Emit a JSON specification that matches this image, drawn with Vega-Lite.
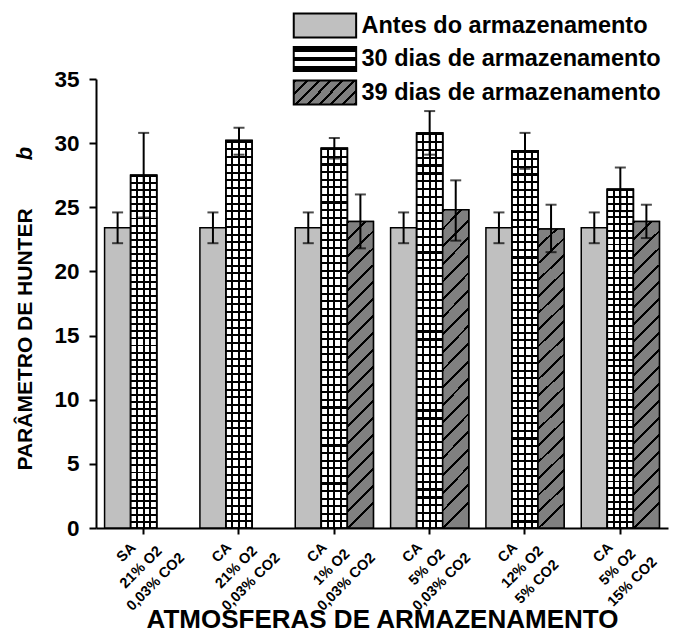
{
"$schema":"https://vega.github.io/schema/vega-lite/v6.json",
"width":572,"height":449,"autosize":"none",
"padding":{"left":96,"top":79,"right":6,"bottom":104},
"background":"#ffffff",
"title":{"text":"b","orient":"left","anchor":"end","fontStyle":"italic","fontWeight":"bold","fontSize":22,"offset":-23,"dx":-133,"color":"#000000"},
"data":{"values":[
{"atmosfera":"SA\n21% O2\n0,03% CO2","serie":"Antes do armazenamento","valor":23.4,"min":22.2,"max":24.6},
{"atmosfera":"SA\n21% O2\n0,03% CO2","serie":"30 dias de armazenamento","valor":27.5,"min":24.2,"max":30.8},
{"atmosfera":"CA\n21% O2\n0,03% CO2","serie":"Antes do armazenamento","valor":23.4,"min":22.2,"max":24.6},
{"atmosfera":"CA\n21% O2\n0,03% CO2","serie":"30 dias de armazenamento","valor":30.2,"min":29.1,"max":31.2},
{"atmosfera":"CA\n1% O2\n0,03% CO2","serie":"Antes do armazenamento","valor":23.4,"min":22.2,"max":24.6},
{"atmosfera":"CA\n1% O2\n0,03% CO2","serie":"30 dias de armazenamento","valor":29.6,"min":28.8,"max":30.4},
{"atmosfera":"CA\n1% O2\n0,03% CO2","serie":"39 dias de armazenamento","valor":23.9,"min":21.8,"max":26.0},
{"atmosfera":"CA\n5% O2\n0,03% CO2","serie":"Antes do armazenamento","valor":23.4,"min":22.2,"max":24.6},
{"atmosfera":"CA\n5% O2\n0,03% CO2","serie":"30 dias de armazenamento","valor":30.8,"min":29.1,"max":32.5},
{"atmosfera":"CA\n5% O2\n0,03% CO2","serie":"39 dias de armazenamento","valor":24.8,"min":22.4,"max":27.1},
{"atmosfera":"CA\n12% O2\n5% CO2","serie":"Antes do armazenamento","valor":23.4,"min":22.2,"max":24.6},
{"atmosfera":"CA\n12% O2\n5% CO2","serie":"30 dias de armazenamento","valor":29.4,"min":28.0,"max":30.8},
{"atmosfera":"CA\n12% O2\n5% CO2","serie":"39 dias de armazenamento","valor":23.3,"min":21.5,"max":25.2},
{"atmosfera":"CA\n5% O2\n15% CO2","serie":"Antes do armazenamento","valor":23.4,"min":22.2,"max":24.6},
{"atmosfera":"CA\n5% O2\n15% CO2","serie":"30 dias de armazenamento","valor":26.4,"min":24.7,"max":28.1},
{"atmosfera":"CA\n5% O2\n15% CO2","serie":"39 dias de armazenamento","valor":23.9,"min":22.6,"max":25.2}
]},
"encoding":{
"x":{"field":"atmosfera","type":"nominal","sort":null,
 "scale":{"paddingInner":0.18,"paddingOuter":0.09},
 "axis":{"title":"ATMOSFERAS DE ARMAZENAMENTO","titleFontSize":26,"titleX":286,"titleY":99,"titleBaseline":"alphabetic","titleAlign":"center","titleAnchor":null,
  "labelExpr":"split(datum.label, '\\n')","labelAngle":315,"labelAlign":"center","labelBaseline":"middle","labelPadding":18.4,"labelOffset":-17,"labelFontSize":14.5,"labelLineHeight":20.7,"labelOverlap":false,"labelBound":false,"labelFlush":false,"labelLimit":0,
  "tickSize":6}},
"xOffset":{"field":"serie","type":"nominal","sort":null,"scale":{"domain":["Antes do armazenamento","30 dias de armazenamento","39 dias de armazenamento"],"paddingInner":0,"paddingOuter":0}}
},
"layer":[
{"transform":[{"filter":"datum.serie === 'Antes do armazenamento'"}],
 "mark":{"type":"bar","stroke":"#000000","strokeWidth":1.5},
 "encoding":{
  "y":{"field":"valor","type":"quantitative","scale":{"domain":[0,35],"nice":false,"zero":true},
   "axis":{"title":"PARÂMETRO DE HUNTER","titleFontSize":21,"titleX":-71,"titleY":260,"titleAngle":-90,"titleBaseline":"middle","titleAlign":"center","titleAnchor":null,
    "values":[0,2.5,5,7.5,10,12.5,15,17.5,20,22.5,25,27.5,30,32.5,35],
    "labelExpr":"datum.value % 5 === 0 ? datum.label : ''",
    "labelFontSize":22.5,"labelPadding":10,
    "tickSize":{"condition":{"test":"datum.value % 5 === 0","value":7},"value":4}}},
  "fill":{"field":"serie","type":"nominal",
   "scale":{"domain":["Antes do armazenamento","30 dias de armazenamento","39 dias de armazenamento"],"range":["#c0c0c0","url(#lg30)","url(#lg39)"]},
   "legend":{"orient":"none","legendX":217.2,"legendY":-65.25,"title":null,"symbolType":"M-3.12,-1.2H3.12V1.2H-3.12Z","symbolSize":400,"symbolStrokeColor":"#000000","symbolStrokeWidth":2,"symbolOpacity":1,
    "labelFontSize":23.5,"labelFontWeight":"bold","labelColor":"#000000","labelOffset":24.8,"rowPadding":0.5,"labelLimit":0,"padding":0}}
 }},
{"transform":[{"filter":"datum.serie === '30 dias de armazenamento'"}],
 "mark":{"type":"bar","stroke":"#000000","strokeWidth":1.5,
  "fill":{"id":"lg30","gradient":"linear","x1":0,"y1":0,"x2":0,"y2":1,"stops":[{"offset":0,"color":"#000"},{"offset":0.22,"color":"#000"},{"offset":0.22,"color":"#fff"},{"offset":0.42,"color":"#fff"},{"offset":0.42,"color":"#000"},{"offset":0.58,"color":"#000"},{"offset":0.58,"color":"#fff"},{"offset":0.78,"color":"#fff"},{"offset":0.78,"color":"#000"},{"offset":1,"color":"#000"}]}},
 "encoding":{"y":{"field":"valor","type":"quantitative"}}},
{"transform":[{"filter":"datum.serie === '39 dias de armazenamento'"}],
 "mark":{"type":"bar","stroke":"#000000","strokeWidth":1.5,
  "fill":{"id":"lg39","gradient":"linear","x1":0,"y1":0,"x2":2.625,"y2":1,"stops":[{"offset":0,"color":"#000"},{"offset":0.016,"color":"#000"},{"offset":0.016,"color":"#808080"},{"offset":0.063,"color":"#808080"},{"offset":0.063,"color":"#000"},{"offset":0.079,"color":"#000"},{"offset":0.079,"color":"#808080"},{"offset":0.127,"color":"#808080"},{"offset":0.127,"color":"#000"},{"offset":0.143,"color":"#000"},{"offset":0.143,"color":"#808080"},{"offset":0.19,"color":"#808080"},{"offset":0.19,"color":"#000"},{"offset":0.206,"color":"#000"},{"offset":0.206,"color":"#808080"},{"offset":0.254,"color":"#808080"},{"offset":0.254,"color":"#000"},{"offset":0.27,"color":"#000"},{"offset":0.27,"color":"#808080"},{"offset":0.317,"color":"#808080"},{"offset":0.317,"color":"#000"},{"offset":0.333,"color":"#000"},{"offset":0.333,"color":"#808080"},{"offset":0.38,"color":"#808080"},{"offset":0.38,"color":"#000"},{"offset":0.396,"color":"#000"},{"offset":0.396,"color":"#808080"},{"offset":0.444,"color":"#808080"},{"offset":0.444,"color":"#000"},{"offset":0.46,"color":"#000"},{"offset":0.46,"color":"#808080"},{"offset":1,"color":"#808080"}]}},
 "encoding":{"y":{"field":"valor","type":"quantitative"}}},
{"transform":[{"filter":"datum.serie === '30 dias de armazenamento'"}],
 "mark":{"type":"bar","stroke":"#000000","strokeWidth":1.5,
  "fill":{"gradient":"linear","x1":0,"y1":0,"x2":0,"y2":1,"stops":[
{"offset":0,"color":"#000"},{"offset":0.0055,"color":"#000"},{"offset":0.0055,"color":"#fff"},{"offset":0.02,"color":"#fff"},
{"offset":0.02,"color":"#000"},{"offset":0.0255,"color":"#000"},{"offset":0.0255,"color":"#fff"},{"offset":0.04,"color":"#fff"},
{"offset":0.04,"color":"#000"},{"offset":0.0455,"color":"#000"},{"offset":0.0455,"color":"#fff"},{"offset":0.06,"color":"#fff"},
{"offset":0.06,"color":"#000"},{"offset":0.0655,"color":"#000"},{"offset":0.0655,"color":"#fff"},{"offset":0.08,"color":"#fff"},
{"offset":0.08,"color":"#000"},{"offset":0.0855,"color":"#000"},{"offset":0.0855,"color":"#fff"},{"offset":0.1,"color":"#fff"},
{"offset":0.1,"color":"#000"},{"offset":0.1055,"color":"#000"},{"offset":0.1055,"color":"#fff"},{"offset":0.12,"color":"#fff"},
{"offset":0.12,"color":"#000"},{"offset":0.1255,"color":"#000"},{"offset":0.1255,"color":"#fff"},{"offset":0.14,"color":"#fff"},
{"offset":0.14,"color":"#000"},{"offset":0.1455,"color":"#000"},{"offset":0.1455,"color":"#fff"},{"offset":0.16,"color":"#fff"},
{"offset":0.16,"color":"#000"},{"offset":0.1655,"color":"#000"},{"offset":0.1655,"color":"#fff"},{"offset":0.18,"color":"#fff"},
{"offset":0.18,"color":"#000"},{"offset":0.1855,"color":"#000"},{"offset":0.1855,"color":"#fff"},{"offset":0.2,"color":"#fff"},
{"offset":0.2,"color":"#000"},{"offset":0.2055,"color":"#000"},{"offset":0.2055,"color":"#fff"},{"offset":0.22,"color":"#fff"},
{"offset":0.22,"color":"#000"},{"offset":0.2255,"color":"#000"},{"offset":0.2255,"color":"#fff"},{"offset":0.24,"color":"#fff"},
{"offset":0.24,"color":"#000"},{"offset":0.2455,"color":"#000"},{"offset":0.2455,"color":"#fff"},{"offset":0.26,"color":"#fff"},
{"offset":0.26,"color":"#000"},{"offset":0.2655,"color":"#000"},{"offset":0.2655,"color":"#fff"},{"offset":0.28,"color":"#fff"},
{"offset":0.28,"color":"#000"},{"offset":0.2855,"color":"#000"},{"offset":0.2855,"color":"#fff"},{"offset":0.3,"color":"#fff"},
{"offset":0.3,"color":"#000"},{"offset":0.3055,"color":"#000"},{"offset":0.3055,"color":"#fff"},{"offset":0.32,"color":"#fff"},
{"offset":0.32,"color":"#000"},{"offset":0.3255,"color":"#000"},{"offset":0.3255,"color":"#fff"},{"offset":0.34,"color":"#fff"},
{"offset":0.34,"color":"#000"},{"offset":0.3455,"color":"#000"},{"offset":0.3455,"color":"#fff"},{"offset":0.36,"color":"#fff"},
{"offset":0.36,"color":"#000"},{"offset":0.3655,"color":"#000"},{"offset":0.3655,"color":"#fff"},{"offset":0.38,"color":"#fff"},
{"offset":0.38,"color":"#000"},{"offset":0.3855,"color":"#000"},{"offset":0.3855,"color":"#fff"},{"offset":0.4,"color":"#fff"},
{"offset":0.4,"color":"#000"},{"offset":0.4055,"color":"#000"},{"offset":0.4055,"color":"#fff"},{"offset":0.42,"color":"#fff"},
{"offset":0.42,"color":"#000"},{"offset":0.4255,"color":"#000"},{"offset":0.4255,"color":"#fff"},{"offset":0.44,"color":"#fff"},
{"offset":0.44,"color":"#000"},{"offset":0.4455,"color":"#000"},{"offset":0.4455,"color":"#fff"},{"offset":0.46,"color":"#fff"},
{"offset":0.46,"color":"#000"},{"offset":0.4655,"color":"#000"},{"offset":0.4655,"color":"#fff"},{"offset":0.48,"color":"#fff"},
{"offset":0.48,"color":"#000"},{"offset":0.4855,"color":"#000"},{"offset":0.4855,"color":"#fff"},{"offset":0.5,"color":"#fff"},
{"offset":0.5,"color":"#000"},{"offset":0.5055,"color":"#000"},{"offset":0.5055,"color":"#fff"},{"offset":0.52,"color":"#fff"},
{"offset":0.52,"color":"#000"},{"offset":0.5255,"color":"#000"},{"offset":0.5255,"color":"#fff"},{"offset":0.54,"color":"#fff"},
{"offset":0.54,"color":"#000"},{"offset":0.5455,"color":"#000"},{"offset":0.5455,"color":"#fff"},{"offset":0.56,"color":"#fff"},
{"offset":0.56,"color":"#000"},{"offset":0.5655,"color":"#000"},{"offset":0.5655,"color":"#fff"},{"offset":0.58,"color":"#fff"},
{"offset":0.58,"color":"#000"},{"offset":0.5855,"color":"#000"},{"offset":0.5855,"color":"#fff"},{"offset":0.6,"color":"#fff"},
{"offset":0.6,"color":"#000"},{"offset":0.6055,"color":"#000"},{"offset":0.6055,"color":"#fff"},{"offset":0.62,"color":"#fff"},
{"offset":0.62,"color":"#000"},{"offset":0.6255,"color":"#000"},{"offset":0.6255,"color":"#fff"},{"offset":0.64,"color":"#fff"},
{"offset":0.64,"color":"#000"},{"offset":0.6455,"color":"#000"},{"offset":0.6455,"color":"#fff"},{"offset":0.66,"color":"#fff"},
{"offset":0.66,"color":"#000"},{"offset":0.6655,"color":"#000"},{"offset":0.6655,"color":"#fff"},{"offset":0.68,"color":"#fff"},
{"offset":0.68,"color":"#000"},{"offset":0.6855,"color":"#000"},{"offset":0.6855,"color":"#fff"},{"offset":0.7,"color":"#fff"},
{"offset":0.7,"color":"#000"},{"offset":0.7055,"color":"#000"},{"offset":0.7055,"color":"#fff"},{"offset":0.72,"color":"#fff"},
{"offset":0.72,"color":"#000"},{"offset":0.7255,"color":"#000"},{"offset":0.7255,"color":"#fff"},{"offset":0.74,"color":"#fff"},
{"offset":0.74,"color":"#000"},{"offset":0.7455,"color":"#000"},{"offset":0.7455,"color":"#fff"},{"offset":0.76,"color":"#fff"},
{"offset":0.76,"color":"#000"},{"offset":0.7655,"color":"#000"},{"offset":0.7655,"color":"#fff"},{"offset":0.78,"color":"#fff"},
{"offset":0.78,"color":"#000"},{"offset":0.7855,"color":"#000"},{"offset":0.7855,"color":"#fff"},{"offset":0.8,"color":"#fff"},
{"offset":0.8,"color":"#000"},{"offset":0.8055,"color":"#000"},{"offset":0.8055,"color":"#fff"},{"offset":0.82,"color":"#fff"},
{"offset":0.82,"color":"#000"},{"offset":0.8255,"color":"#000"},{"offset":0.8255,"color":"#fff"},{"offset":0.84,"color":"#fff"},
{"offset":0.84,"color":"#000"},{"offset":0.8455,"color":"#000"},{"offset":0.8455,"color":"#fff"},{"offset":0.86,"color":"#fff"},
{"offset":0.86,"color":"#000"},{"offset":0.8655,"color":"#000"},{"offset":0.8655,"color":"#fff"},{"offset":0.88,"color":"#fff"},
{"offset":0.88,"color":"#000"},{"offset":0.8855,"color":"#000"},{"offset":0.8855,"color":"#fff"},{"offset":0.9,"color":"#fff"},
{"offset":0.9,"color":"#000"},{"offset":0.9055,"color":"#000"},{"offset":0.9055,"color":"#fff"},{"offset":0.92,"color":"#fff"},
{"offset":0.92,"color":"#000"},{"offset":0.9255,"color":"#000"},{"offset":0.9255,"color":"#fff"},{"offset":0.94,"color":"#fff"},
{"offset":0.94,"color":"#000"},{"offset":0.9455,"color":"#000"},{"offset":0.9455,"color":"#fff"},{"offset":0.96,"color":"#fff"},
{"offset":0.96,"color":"#000"},{"offset":0.9655,"color":"#000"},{"offset":0.9655,"color":"#fff"},{"offset":0.98,"color":"#fff"},
{"offset":0.98,"color":"#000"},{"offset":0.9855,"color":"#000"},{"offset":0.9855,"color":"#fff"},{"offset":1,"color":"#fff"}
  ]}},
 "encoding":{"y":{"field":"valor","type":"quantitative"}}},
{"transform":[{"filter":"datum.serie === '30 dias de armazenamento'"}],
 "mark":{"type":"bar","stroke":"#000000","strokeWidth":1.5,
  "fill":{"gradient":"linear","x1":0,"y1":0,"x2":1,"y2":0,"stops":[
{"offset":0,"color":"rgba(0,0,0,0)"},{"offset":0.212,"color":"rgba(0,0,0,0)"},{"offset":0.212,"color":"#000"},{"offset":0.288,"color":"#000"},{"offset":0.288,"color":"rgba(0,0,0,0)"},
{"offset":0.462,"color":"rgba(0,0,0,0)"},{"offset":0.462,"color":"#000"},{"offset":0.538,"color":"#000"},{"offset":0.538,"color":"rgba(0,0,0,0)"},
{"offset":0.712,"color":"rgba(0,0,0,0)"},{"offset":0.712,"color":"#000"},{"offset":0.788,"color":"#000"},{"offset":0.788,"color":"rgba(0,0,0,0)"},{"offset":1,"color":"rgba(0,0,0,0)"}
  ]}},
 "encoding":{"y":{"field":"valor","type":"quantitative"}}},
{"transform":[{"filter":"datum.serie === '39 dias de armazenamento'"}],
 "mark":{"type":"bar","stroke":"#000000","strokeWidth":1.5,
  "fill":{"gradient":"linear","x1":0,"y1":0,"x2":0.0839,"y2":1,"stops":[
{"offset":0,"color":"#000"},{"offset":0.009,"color":"#000"},{"offset":0.009,"color":"#808080"},{"offset":0.055,"color":"#808080"},
{"offset":0.055,"color":"#000"},{"offset":0.064,"color":"#000"},{"offset":0.064,"color":"#808080"},{"offset":0.11,"color":"#808080"},
{"offset":0.11,"color":"#000"},{"offset":0.119,"color":"#000"},{"offset":0.119,"color":"#808080"},{"offset":0.165,"color":"#808080"},
{"offset":0.165,"color":"#000"},{"offset":0.174,"color":"#000"},{"offset":0.174,"color":"#808080"},{"offset":0.22,"color":"#808080"},
{"offset":0.22,"color":"#000"},{"offset":0.229,"color":"#000"},{"offset":0.229,"color":"#808080"},{"offset":0.275,"color":"#808080"},
{"offset":0.275,"color":"#000"},{"offset":0.284,"color":"#000"},{"offset":0.284,"color":"#808080"},{"offset":0.33,"color":"#808080"},
{"offset":0.33,"color":"#000"},{"offset":0.339,"color":"#000"},{"offset":0.339,"color":"#808080"},{"offset":0.385,"color":"#808080"},
{"offset":0.385,"color":"#000"},{"offset":0.394,"color":"#000"},{"offset":0.394,"color":"#808080"},{"offset":0.44,"color":"#808080"},
{"offset":0.44,"color":"#000"},{"offset":0.449,"color":"#000"},{"offset":0.449,"color":"#808080"},{"offset":0.495,"color":"#808080"},
{"offset":0.495,"color":"#000"},{"offset":0.504,"color":"#000"},{"offset":0.504,"color":"#808080"},{"offset":0.55,"color":"#808080"},
{"offset":0.55,"color":"#000"},{"offset":0.559,"color":"#000"},{"offset":0.559,"color":"#808080"},{"offset":0.605,"color":"#808080"},
{"offset":0.605,"color":"#000"},{"offset":0.614,"color":"#000"},{"offset":0.614,"color":"#808080"},{"offset":0.66,"color":"#808080"},
{"offset":0.66,"color":"#000"},{"offset":0.669,"color":"#000"},{"offset":0.669,"color":"#808080"},{"offset":0.715,"color":"#808080"},
{"offset":0.715,"color":"#000"},{"offset":0.724,"color":"#000"},{"offset":0.724,"color":"#808080"},{"offset":0.77,"color":"#808080"},
{"offset":0.77,"color":"#000"},{"offset":0.779,"color":"#000"},{"offset":0.779,"color":"#808080"},{"offset":0.825,"color":"#808080"},
{"offset":0.825,"color":"#000"},{"offset":0.834,"color":"#000"},{"offset":0.834,"color":"#808080"},{"offset":0.88,"color":"#808080"},
{"offset":0.88,"color":"#000"},{"offset":0.889,"color":"#000"},{"offset":0.889,"color":"#808080"},{"offset":0.935,"color":"#808080"},
{"offset":0.935,"color":"#000"},{"offset":0.944,"color":"#000"},{"offset":0.944,"color":"#808080"},{"offset":0.99,"color":"#808080"},
{"offset":0.99,"color":"#000"},{"offset":0.999,"color":"#000"},{"offset":0.999,"color":"#808080"},{"offset":1,"color":"#808080"}
  ]}},
 "encoding":{"y":{"field":"valor","type":"quantitative"}}},
{"mark":{"type":"rule","color":"#000000","strokeWidth":2},
 "encoding":{"y":{"field":"min","type":"quantitative"},"y2":{"field":"max"}}},
{"mark":{"type":"tick","color":"#000000","thickness":2,"size":11,"orient":"horizontal"},
 "encoding":{"y":{"field":"min","type":"quantitative"}}},
{"mark":{"type":"tick","color":"#000000","thickness":2,"size":11,"orient":"horizontal"},
 "encoding":{"y":{"field":"max","type":"quantitative"}}}
],
"config":{"font":"Liberation Sans","view":{"stroke":null},
 "axis":{"domainColor":"#000000","domainWidth":2,"tickColor":"#000000","tickWidth":2,"labelColor":"#000000","titleColor":"#000000","grid":false,"labelFontWeight":"bold","titleFontWeight":"bold"}}
}
